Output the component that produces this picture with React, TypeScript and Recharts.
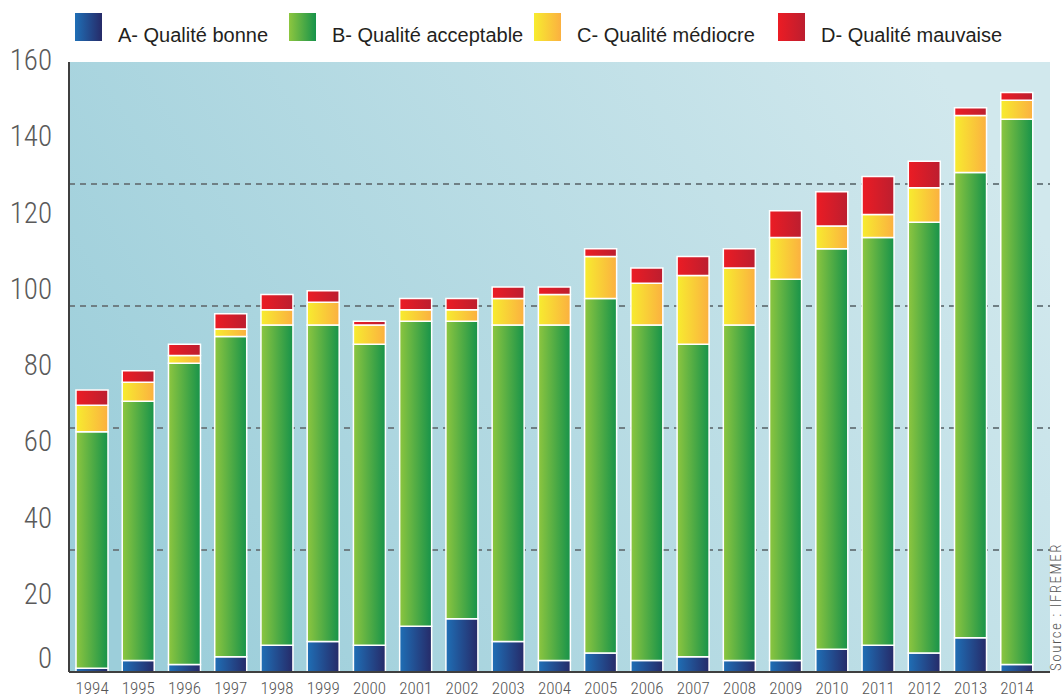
import React from "react";
import { Bar, BarChart, CartesianGrid, XAxis, YAxis } from "recharts";

// Nombre de points de suivi par classe de qualité, 1994-2014 (source IFREMER)

const years = [
  "1994", "1995", "1996", "1997", "1998", "1999", "2000", "2001", "2002", "2003", "2004",
  "2005", "2006", "2007", "2008", "2009", "2010", "2011", "2012", "2013", "2014",
];
const qualiteBonne = [1, 3, 2, 4, 7, 8, 7, 12, 14, 8, 3, 5, 3, 4, 3, 3, 6, 7, 5, 9, 2];
const qualiteAcceptable = [62, 68, 79, 84, 84, 83, 79, 80, 78, 83, 88, 93, 88, 82, 88, 100, 105, 107, 113, 122, 143];
const qualiteMediocre = [7, 5, 2, 2, 4, 6, 5, 3, 3, 7, 8, 11, 11, 18, 15, 11, 6, 6, 9, 15, 5];
const qualiteMauvaise = [4, 3, 3, 4, 4, 3, 1, 3, 3, 3, 2, 2, 4, 5, 5, 7, 9, 10, 7, 2, 2];

const yTicks = [0, 20, 40, 60, 80, 100, 120, 140, 160];
const gridValues = [32, 64, 96, 128];

const SERIES = [
  { key: "A", label: "A- Qualité bonne", from: "#1f6fb6", to: "#262a68", left: 75 },
  { key: "B", label: "B- Qualité acceptable", from: "#8dc63f", to: "#17934a", left: 289 },
  { key: "C", label: "C- Qualité médiocre", from: "#f7ec2f", to: "#fbb040", left: 534 },
  { key: "D", label: "D- Qualité mauvaise", from: "#ec1c24", to: "#bc1e2f", left: 778 },
];

const data = years.map((year, i) => ({
  year,
  A: qualiteBonne[i],
  B: qualiteAcceptable[i],
  C: qualiteMediocre[i],
  D: qualiteMauvaise[i],
}));

const NARROW = '"Liberation Sans Narrow", "Roboto Condensed", "DejaVu Sans Condensed", sans-serif';

function YTick({ x, y, payload }: any) {
  // the "0" sits a little above the axis in the original
  const lift = payload.value === 0 ? 12 : 0;
  return (
    <text x={x} y={y - lift} dy={8} textAnchor="end" fontFamily={NARROW} fontWeight={300} fontSize={29} fill="#5a5a5a">
      {payload.value}
    </text>
  );
}

function XTick({ x, y, payload }: any) {
  return (
    <text x={x} y={y} dy={22} textAnchor="middle" fontFamily={NARROW} fontWeight={300} fontSize={17} fill="#555">
      {payload.value}
    </text>
  );
}

export default function App() {
  return (
    <div style={{ position: "absolute", left: 0, top: 0, width: 1063, height: 699, background: "#fff" }}>
      {SERIES.map((s) => (
        <div
          key={s.key}
          style={{
            position: "absolute",
            left: s.left,
            top: 13,
            display: "flex",
            alignItems: "flex-start",
            fontFamily: '"Liberation Sans", Arial, sans-serif',
            fontSize: 20,
            color: "#231f20",
            whiteSpace: "nowrap",
          }}
        >
          <div
            style={{
              width: 27,
              height: 28,
              background: `linear-gradient(to right, ${s.from}, ${s.to})`,
              boxShadow: "0 0 0 1px #fff",
            }}
          />
          <span style={{ marginLeft: 16, marginTop: 11, lineHeight: "22px" }}>{s.label}</span>
        </div>
      ))}

      <BarChart width={1063} height={699} data={data} margin={{ top: 62, right: 13, left: 0, bottom: 0 }}>
        <defs>
          <linearGradient id="bg" x1="0" y1="0.7" x2="1" y2="0.3">
            <stop offset="0%" stopColor="#9cceda" />
            <stop offset="100%" stopColor="#d1e8ed" />
          </linearGradient>
          {SERIES.map((s) => (
            <linearGradient key={s.key} id={`g${s.key}`} x1="0" y1="0" x2="1" y2="0">
              <stop offset="0%" stopColor={s.from} />
              <stop offset="100%" stopColor={s.to} />
            </linearGradient>
          ))}
        </defs>
        <CartesianGrid
          vertical={false}
          horizontalValues={gridValues}
          stroke="#6f7f84"
          strokeWidth={2}
          strokeDasharray="6 5"
          fill="url(#bg)"
          fillOpacity={1}
        />
        <XAxis
          dataKey="year"
          height={27}
          tick={<XTick />}
          tickLine={false}
          tickSize={0}
          tickMargin={0}
          interval={0}
          padding={{ left: 0, right: 10 }}
          axisLine={{ stroke: "#3f3f3f", strokeWidth: 2 }}
        />
        <YAxis
          width={69}
          domain={[0, 160]}
          ticks={yTicks}
          interval={0}
          tick={<YTick />}
          tickLine={false}
          tickSize={0}
          tickMargin={17}
          axisLine={{ stroke: "#3f3f3f", strokeWidth: 2 }}
        />
        {SERIES.map((s) => (
          <Bar
            key={s.key}
            dataKey={s.key}
            stackId="q"
            barSize={32}
            fill={`url(#g${s.key})`}
            stroke="#ffffff"
            strokeWidth={1.5}
            isAnimationActive={false}
          />
        ))}
      </BarChart>

      <div
        style={{
          position: "absolute",
          left: 1056,
          top: 607,
          transform: "translate(-50%, -50%) rotate(-90deg)",
          whiteSpace: "nowrap",
          fontFamily: NARROW,
          fontWeight: 300,
          fontSize: 15,
          lineHeight: "15px",
          letterSpacing: 1.5,
          color: "#555",
        }}
      >
        Source : IFREMER
      </div>
    </div>
  );
}
